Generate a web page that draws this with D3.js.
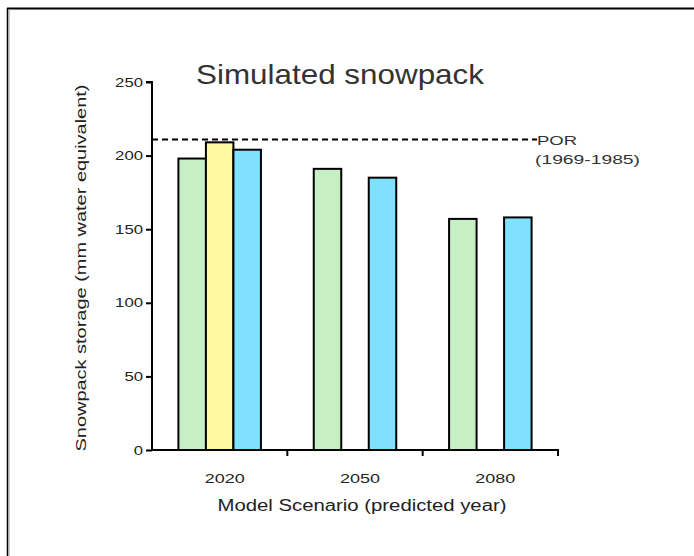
<!DOCTYPE html>
<html><head><meta charset="utf-8">
<script src="https://cdn.jsdelivr.net/npm/d3@7"></script>
<style>body{margin:0;background:#fff;} svg{display:block;}</style>
</head><body>
<svg id="c" width="694" height="556"></svg>
<script>
const years = ["2020", "2050", "2080"];
const seriesNames = ["s1", "s2", "s3"];
const seriesColors = ["#c6efc6", "#fff9a0", "#80e0ff"];
const values2020 = [198, 209, 204];
const values2050 = [191, null, 185];
const values2080 = [157, null, 158];
const yTicks = [0, 50, 100, 150, 200, 250];
const porValue = 211;
const porLabel = ["POR", "(1969-1985)"];

const allValues = [values2020, values2050, values2080];
const svg = d3.select("#c");
const font = "Liberation Sans, Arial, sans-serif";

// frame
svg.append("line").attr("x1", 7).attr("x2", 694).attr("y1", 8.5).attr("y2", 8.5).attr("stroke", "#000").attr("stroke-width", 2);
svg.append("line").attr("x1", 7.5).attr("x2", 7.5).attr("y1", 8).attr("y2", 556).attr("stroke", "#000").attr("stroke-width", 1.5);
svg.append("line").attr("x1", 9).attr("x2", 9).attr("y1", 9).attr("y2", 556).attr("stroke", "#999").attr("stroke-width", 1);

const x0 = 152, x1 = 558, yTop = 82, yBot = 450;
const x = d3.scaleBand().domain(years).range([x0, x1]);
const y = d3.scaleLinear().domain([0, 250]).range([yBot, yTop]);
const barW = 27.5;
const xs = d3.scaleBand().domain(seriesNames).range([-barW * 1.5, barW * 1.5]);

// bars
years.forEach((yr, gi) => {
  const cx = x(yr) + x.bandwidth() / 2;
  allValues[gi].forEach((v, si) => {
    if (v == null) return;
    svg.append("rect")
      .attr("x", cx + xs(seriesNames[si]))
      .attr("y", y(v))
      .attr("width", xs.bandwidth())
      .attr("height", y(0) - y(v))
      .attr("fill", seriesColors[si])
      .attr("stroke", "#000").attr("stroke-width", 2);
  });
});

// POR dashed line
svg.append("line").attr("x1", x0).attr("x2", 537).attr("y1", y(porValue)).attr("y2", y(porValue))
  .attr("stroke", "#000").attr("stroke-width", 2).attr("stroke-dasharray", "6,4");
svg.append("text").attr("x", 537).attr("y", y(porValue) + 6).attr("font-family", font).attr("font-size", 13)
  .attr("fill", "#333").attr("textLength", 40).attr("lengthAdjust", "spacingAndGlyphs").text(porLabel[0]);
svg.append("text").attr("x", 535).attr("y", y(porValue) + 25).attr("font-family", font).attr("font-size", 13)
  .attr("fill", "#333").attr("textLength", 105).attr("lengthAdjust", "spacingAndGlyphs").text(porLabel[1]);

// y axis
const yAxis = svg.append("g").attr("transform", `translate(${x0},0)`)
  .call(d3.axisLeft(y).tickValues(yTicks).tickSize(6).tickPadding(3));
yAxis.select(".domain").attr("stroke-width", 2).attr("d", `M-6,${yTop}H0V${yBot}`);
yAxis.selectAll(".tick line").attr("stroke-width", 2);
yAxis.selectAll("text").attr("font-family", font).attr("font-size", 13).attr("fill", "#222")
  .attr("textLength", d => String(d).length * 9.3).attr("lengthAdjust", "spacingAndGlyphs");

// x axis
const xAxis = svg.append("g").attr("transform", `translate(0,${yBot})`)
  .call(d3.axisBottom(x).tickSize(0).tickPadding(24));
xAxis.select(".domain").attr("stroke-width", 2).attr("d", `M${x0},0H${x1}V6`);
xAxis.selectAll("text").attr("font-family", font).attr("font-size", 13).attr("fill", "#222")
  .attr("x", 5).attr("textLength", 40).attr("lengthAdjust", "spacingAndGlyphs");
// separators between groups
years.slice(1).forEach(yr => {
  xAxis.append("line").attr("x1", x(yr)).attr("x2", x(yr)).attr("y1", 0).attr("y2", 6).attr("stroke", "#000").attr("stroke-width", 2);
});

// title
svg.append("text").attr("x", 340).attr("y", 84).attr("text-anchor", "middle").attr("font-family", font)
  .attr("font-size", 28).attr("fill", "#333").attr("textLength", 288).attr("lengthAdjust", "spacingAndGlyphs")
  .text("Simulated snowpack");
// axis labels
svg.append("text").attr("x", 362).attr("y", 511).attr("text-anchor", "middle").attr("font-family", font)
  .attr("font-size", 16).attr("fill", "#222").attr("textLength", 289).attr("lengthAdjust", "spacingAndGlyphs")
  .text("Model Scenario (predicted year)");
svg.append("text").attr("transform", "translate(86,268) rotate(-90)").attr("text-anchor", "middle").attr("font-family", font)
  .attr("font-size", 15).attr("fill", "#222").attr("textLength", 367).attr("lengthAdjust", "spacingAndGlyphs")
  .text("Snowpack storage (mm water equivalent)");
</script>
</body></html>
